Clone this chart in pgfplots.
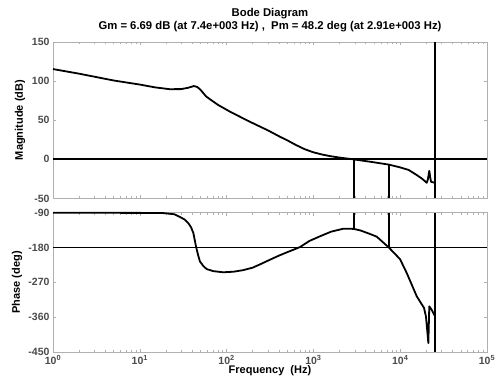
\documentclass[border=0pt]{standalone}
\usepackage{pgfplots}
\pgfplotsset{compat=1.18}
\usepackage{fontspec}
\setmainfont{Liberation Sans}
\definecolor{axgray}{HTML}{B0B0B0}
\definecolor{tickgray}{HTML}{4A4A4A}
\begin{document}
\begin{tikzpicture}[x=1pt,y=1pt]
\useasboundingbox (0,0) rectangle (500,387);
% Magnitude
\begin{axis}[scale only axis, width=434pt, height=156.5pt, xmode=log, xmin=1, xmax=1e5,
  at={(53pt,188.5pt)}, anchor=south west,
  axis line style={axgray}, tick style={axgray, line width=0.5pt},
  major tick length=3pt, minor tick length=2pt,
  tick align=inside, xtick pos=both, ytick pos=both,
  xtick={1,10,100,1000,10000,100000},
  minor xtick={2,3,4,5,6,7,8,9,20,30,40,50,60,70,80,90,200,300,400,500,600,700,800,900,2000,3000,4000,5000,6000,7000,8000,9000,20000,30000,40000,50000,60000,70000,80000,90000},
  ticklabel style={font=\fontsize{10.5}{11}\selectfont\bfseries, text=tickgray},
  clip=false,
  ymin=-50, ymax=150, ytick={-50,0,50,100,150}, yticklabels={-50,0,50,100,150},
  xticklabels={}]
\addplot[black, line width=1.8pt, line join=round, no marks] coordinates {(1,115.4)(2,109.5)(5,100.8)(10,95.6)(15,92)(22,89.7)(30,89.8)(36,91.5)(42,93.7)(46,92.5)(50,89)(58,80.5)(64,77)(80,69.5)(110,60.8)(186,48)(300,37)(412,28.9)(501,24.3)(631,18.3)(794,13)(1000,9)(1259,6.2)(1585,4)(1995,2.3)(2512,0.9)(2910,0)(4500,-3)(7400,-6.69)(9950,-10.2)(12500,-13.5)(15500,-20)(18000,-25)(20200,-29.9)(20800,-26)(21630,-14.6)(22100,-22)(22650,-28.6)(25100,-30)};
\addplot[black, line width=1.8pt, no marks] coordinates {(1,0)(100000,0)};
\addplot[black, line width=1.8pt, no marks] coordinates {(2910,0)(2910,-50)};
\addplot[black, line width=1.8pt, no marks] coordinates {(7400,-6.69)(7400,-50)};
\addplot[black, line width=1.8pt, no marks] coordinates {(25100,-50)(25100,150)};
\end{axis}
% Phase
\begin{axis}[scale only axis, width=434pt, height=139.3pt, xmode=log, xmin=1, xmax=1e5,
  at={(53pt,35pt)}, anchor=south west,
  axis line style={axgray}, tick style={axgray, line width=0.5pt},
  major tick length=3pt, minor tick length=2pt,
  tick align=inside, xtick pos=both, ytick pos=both,
  xtick={1,10,100,1000,10000,100000},
  minor xtick={2,3,4,5,6,7,8,9,20,30,40,50,60,70,80,90,200,300,400,500,600,700,800,900,2000,3000,4000,5000,6000,7000,8000,9000,20000,30000,40000,50000,60000,70000,80000,90000},
  ticklabel style={font=\fontsize{10.5}{11}\selectfont\bfseries, text=tickgray},
  clip=false,
  ymin=-450, ymax=-90, ytick={-450,-360,-270,-180,-90}, yticklabels={-450,-360,-270,-180,-90},
  xticklabels={10\textsuperscript{0},10\textsuperscript{1},10\textsuperscript{2},10\textsuperscript{3},10\textsuperscript{4},10\textsuperscript{5}}]
\addplot[black, line width=1.8pt, line join=round, no marks] coordinates {(1,-90)(10,-90.5)(18.6,-91)(25,-94)(29,-101)(33,-108)(36.2,-117)(39,-128)(41.4,-142.5)(44.4,-177)(47,-200)(49.3,-216)(54,-228)(58.9,-235.6)(70,-241)(91.6,-244)(120,-242.5)(155,-238.5)(200,-232)(251,-222)(316,-211.5)(400,-201)(500,-192)(631,-183)(702,-178.7)(900,-163)(1190,-151)(1600,-139)(2210,-131.4)(2910,-131.8)(3500,-136)(4490,-145)(5370,-152)(7400,-180)(9950,-210)(11900,-246)(15500,-306)(18800,-336)(19800,-358)(20400,-390)(21100,-427)(21630,-332)(23070,-341)(24700,-354)(25100,-356)};
\addplot[black, line width=1.8pt, no marks] coordinates {(1,-180)(100000,-180)};
\addplot[black, line width=1.8pt, no marks] coordinates {(2910,-90)(2910,-131.8)};
\addplot[black, line width=1.8pt, no marks] coordinates {(7400,-90)(7400,-180)};
\addplot[black, line width=1.8pt, no marks] coordinates {(25100,-450)(25100,-90)};
\end{axis}
\node[font=\fontsize{11.3}{12}\selectfont\bfseries] at (270pt,373.5pt) {Bode Diagram};
\node[font=\fontsize{11.3}{12}\selectfont\bfseries] at (270pt,360.5pt) {Gm = 6.69 dB (at 7.4e+003 Hz) ,\ \ Pm = 48.2 deg (at 2.91e+003 Hz)};
\node[font=\fontsize{11}{12}\selectfont\bfseries] at (270pt,16pt) {Frequency\ \ (Hz)};
\node[font=\fontsize{11}{12}\selectfont\bfseries, rotate=90] at (20pt,267pt) {Magnitude (dB)};
\node[font=\fontsize{11}{12}\selectfont\bfseries, rotate=90] at (17pt,104.5pt) {Phase (deg)};
\end{tikzpicture}
\end{document}
